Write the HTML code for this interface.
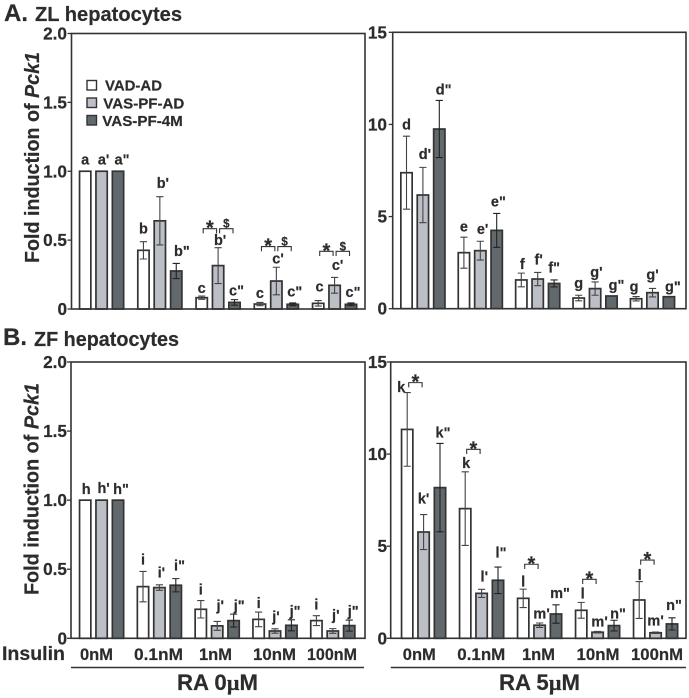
<!DOCTYPE html>
<html lang="en">
<head>
<meta charset="utf-8">
<title>Fold induction of Pck1</title>
<style>
html,body{margin:0;padding:0;background:#fff;width:689px;height:698px;overflow:hidden}
svg{display:block}
text{font-family:"Liberation Sans",sans-serif;font-weight:bold;fill:#2c2c2c;stroke:#2c2c2c;stroke-width:.2px}
</style>
</head>
<body>
<svg id="figure" xmlns="http://www.w3.org/2000/svg" width="689" height="698" viewBox="0 0 689 698">
  <rect width="689" height="698" fill="#fff"/>

  <text x="4" y="21" font-size="24">A.</text>
  <text x="35" y="21" font-size="20" textLength="147" lengthAdjust="spacingAndGlyphs">ZL hepatocytes</text>
  <text x="3" y="345" font-size="24">B.</text>
  <text x="34" y="346" font-size="20" textLength="145" lengthAdjust="spacingAndGlyphs">ZF hepatocytes</text>

  <text transform="translate(39,263) rotate(-90)" font-size="20" textLength="211" lengthAdjust="spacingAndGlyphs">Fold induction of <tspan font-style="italic">Pck1</tspan></text>
  <text transform="translate(38.5,595) rotate(-90)" font-size="20" textLength="212" lengthAdjust="spacingAndGlyphs">Fold induction of <tspan font-style="italic">Pck1</tspan></text>

  <g>
    <rect x="87" y="80.5" width="9.5" height="9.5" fill="#fff" stroke="#333" stroke-width="1.4"/>
    <text x="105" y="90.5" font-size="14.8" textLength="57" lengthAdjust="spacingAndGlyphs">VAD-AD</text>
    <rect x="87" y="98" width="9.5" height="9.5" fill="#bcc0c6" stroke="#333" stroke-width="1.4"/>
    <text x="103.3" y="108.5" font-size="14.8" textLength="81" lengthAdjust="spacingAndGlyphs">VAS-PF-AD</text>
    <rect x="87" y="115.5" width="9.5" height="9.5" fill="#62696d" stroke="#333" stroke-width="1.4"/>
    <text x="102.3" y="126" font-size="14.8" textLength="80.5" lengthAdjust="spacingAndGlyphs">VAS-PF-4M</text>
  </g>

  <text x="2" y="660" font-size="19.5" textLength="63" lengthAdjust="spacingAndGlyphs">Insulin</text>
  <line x1="71" x2="364" y1="667.5" y2="667.5" stroke="#333" stroke-width="1.5"/>
  <line x1="390.7" x2="686" y1="667.5" y2="667.5" stroke="#333" stroke-width="1.5"/>
  <text x="177" y="690" font-size="22.5" textLength="81" lengthAdjust="spacingAndGlyphs">RA 0<tspan font-family="'Liberation Serif',serif">µ</tspan>M</text>
  <text x="499" y="690" font-size="22.5" textLength="81" lengthAdjust="spacingAndGlyphs">RA 5<tspan font-family="'Liberation Serif',serif">µ</tspan>M</text>

  <g id="panels"></g>
</svg>

<script>
const categories = ['0nM', '0.1nM', '1nM', '10nM', '100nM'];
const seriesNames = ['vad-ad', 'vas-pf-ad', 'vas-pf-4m'];
const lowTicks = [0, 0.5, 1, 1.5, 2];
const lowTickLabels = ['0', '0.5', '1.0', '1.5', '2.0'];
const highTicks = [0, 5, 10, 15];
const highTickLabels = ['0', '5', '10', '15'];

const zlRa0Means = [[1, 1, 1], [0.426, 0.64, 0.276], [0.082, 0.315, 0.048], [0.036, 0.203, 0.034], [0.041, 0.172, 0.034]];
const zlRa0Errors = [[0, 0, 0], [0.063, 0.175, 0.055], [0.012, 0.13, 0.02], [0.012, 0.1, 0.01], [0.02, 0.057, 0.01]];
const zlRa0Letters = [['a', "a'", 'a"'], ['b', "b'", 'b"'], ['c', "b'", 'c"'], ['c', "c'", 'c"'], ['c', "c'", 'c"']];
const zlRa0Brackets = [[2, 0, 0.583, '*'], [2, 1, 0.583, '$'], [3, 0, 0.453, '*'], [3, 1, 0.453, '$'], [4, 0, 0.419, '*'], [4, 1, 0.419, '$']];

const zlRa5Means = [[7.38, 6.17, 9.75], [3.04, 3.15, 4.25], [1.56, 1.61, 1.37], [0.58, 1.09, 0.69], [0.54, 0.87, 0.65]];
const zlRa5Errors = [[1.98, 1.5, 1.55], [0.84, 0.51, 0.92], [0.37, 0.36, 0.19], [0.15, 0.36, 0], [0.12, 0.23, 0]];
const zlRa5Letters = [['d', "d'", 'd"'], ['e', "e'", 'e"'], ['f', "f'", 'f"'], ['g', "g'", 'g"'], ['g', "g'", 'g"']];
const zlRa5Brackets = [];

const zfRa0Means = [[1, 1, 1], [0.374, 0.367, 0.384], [0.21, 0.09, 0.128], [0.137, 0.053, 0.094], [0.128, 0.053, 0.092]];
const zfRa0Errors = [[0, 0, 0], [0.11, 0.02, 0.048], [0.063, 0.032, 0.047], [0.053, 0.016, 0.04], [0.036, 0.017, 0.04]];
const zfRa0Letters = [['h', "h'", 'h"'], ['i', "i'", 'i"'], ['i', "j'", 'j"'], ['i', "j'", 'j"'], ['i', "j'", 'j"']];
const zfRa0Brackets = [];

const zfRa5Means = [[11.34, 5.77, 8.18], [7.04, 2.44, 3.15], [2.17, 0.71, 1.32], [1.52, 0.33, 0.69], [2.08, 0.3, 0.78]];
const zfRa5Errors = [[2, 0.95, 2.4], [2, 0.22, 0.72], [0.5, 0.12, 0.5], [0.43, 0.04, 0.29], [1, 0.04, 0.33]];
const zfRa5Letters = [['k', "k'", 'k"'], ['k', "l'", 'l"'], ['l', "m'", 'm"'], ['l', "m'", 'n"'], ['l', "m'", 'n"']];
const zfRa5Brackets = [[0, 0, 13.88, '*'], [1, 0, 10.26, '*'], [2, 0, 4.02, '*'], [3, 0, 3.2, '*'], [4, 0, 4.25, '*']];

const barFills = ['#ffffff', '#bcc0c6', '#62696d'];
const INK = '#333333';
const SVG_NS = 'http://www.w3.org/2000/svg';
const root = document.getElementById('panels');

const panels = [
  { id: 'zl-ra0', means: zlRa0Means, errors: zlRa0Errors, letters: zlRa0Letters, brackets: zlRa0Brackets,
    ticks: lowTicks, tickLabels: lowTickLabels, yMax: 2,
    left: 71.5, right: 365, top: 33.5, bottom: 309, tickRight: 67, barStart: 78.7, groupStep: 58.25,
    gaps: [[7, 7, 7], [8, 8.7, 7.3], [3.3, 2.7, 4.3], [4.3, 4, 6.3], [9, 7.7, 6]],
    shifts: [[0, 2, 4], [0, 3, 5.6], [0, 2, 2], [0, 1.7, 2], [1.3, 3, 2]] },
  { id: 'zl-ra5', means: zlRa5Means, errors: zlRa5Errors, letters: zlRa5Letters, brackets: zlRa5Brackets,
    ticks: highTicks, tickLabels: highTickLabels, yMax: 15,
    left: 392.7, right: 686, top: 32.3, bottom: 308.7, tickRight: 387, barStart: 400, groupStep: 57.4,
    gaps: [[6.7, 8.3, 6], [5.7, 7.3, 7], [4, 7.7, 7.7], [7, 5, 6], [5, 8.7, 5.3]],
    shifts: [[0, 2, 4.3], [0, 2.3, 1.7], [1, 1, 0], [0, 1.3, 5], [-2, 0, 4]] },
  { id: 'zf-ra0', means: zfRa0Means, errors: zfRa0Errors, letters: zfRa0Letters, brackets: zfRa0Brackets,
    ticks: lowTicks, tickLabels: lowTickLabels, yMax: 2,
    left: 71, right: 365, top: 362, bottom: 638.3, tickRight: 67, barStart: 78.7, groupStep: 57.8,
    gaps: [[6.3, 7.3, 6.3], [7, 7.3, 8.3], [6.3, 10.7, 3.7], [4, 7.3, 3.7], [6, 8.7, 4]],
    shifts: [[1, 2, 3], [0, 2, 3.7], [0, 3, 5.6], [0, 1, 3.7], [0, 3, 4]],
    xLabels: [[96.5, 33], [158.5, 49], [215.5, 33], [274.5, 43], [332, 50]] },
  { id: 'zf-ra5', means: zfRa5Means, errors: zfRa5Errors, letters: zfRa5Letters, brackets: zfRa5Brackets,
    ticks: highTicks, tickLabels: highTickLabels, yMax: 15,
    left: 390.7, right: 686, top: 362, bottom: 638.3, tickRight: 387, barStart: 400.7, groupStep: 58,
    gaps: [[0.7, 11, 6], [3.7, 7.7, 9.3], [2.7, 4.3, 6.7], [3.7, 5, 1.7], [1.7, 6.7, 7.7]],
    shifts: [[-6, 0, 3], [1, 2.7, 3], [0, 2, 4], [1.5, 2, 4], [0.5, 0, 2]],
    xLabels: [[419.3, 33], [481.3, 48], [538.5, 33], [598, 43], [657, 52]] }
];

function make(tag, attrs, parent) {
  const el = document.createElementNS(SVG_NS, tag);
  Object.keys(attrs).forEach(function (k) { el.setAttribute(k, attrs[k]); });
  parent.appendChild(el);
  return el;
}

panels.forEach(function (p) {
  const barOuter = 13;
  const seriesStep = 16.4;
  const stroke = 1.7;
  const yScale = function (v) { return p.bottom - (v / p.yMax) * (p.bottom - p.top); };
  const barLeft = function (g, s) { return p.barStart + g * p.groupStep + s * seriesStep; };
  const barCenter = function (g, s) { return barLeft(g, s) + barOuter / 2; };

  const group = make('g', {}, root);
  
  

  p.means.forEach(function (row, g) {
    row.forEach(function (value, s) {
      const top = yScale(value);
      const bar = make('rect', {
        x: barLeft(g, s) + stroke / 2,
        y: top,
        width: barOuter - stroke,
        height: Math.max(0, p.bottom - top),
        fill: barFills[s],
        stroke: INK,
        'stroke-width': stroke
      }, group);
      
      

      const err = p.errors[g][s];
      const cx = barCenter(g, s);
      if (err > 0) {
        const capHalf = 3.6;
        const path = 'M' + cx + ' ' + yScale(value + err) + 'V' + yScale(value - err) +
          'M' + (cx - capHalf) + ' ' + yScale(value + err) + 'H' + (cx + capHalf) +
          'M' + (cx - capHalf) + ' ' + yScale(value - err) + 'H' + (cx + capHalf);
        const errorBar = make('path', { d: path, fill: 'none', stroke: s === 2 ? '#222' : '#444', 'stroke-width': 1.1 }, group);
        
        
      }

      const letter = make('text', {
        x: cx + p.shifts[g][s],
        y: yScale(value + err) - p.gaps[g][s],
        'font-size': 14.5,
        'text-anchor': 'middle'
      }, group);
      letter.textContent = p.letters[g][s];
      
      
    });
  });

  p.brackets.forEach(function (b) {
    const mid = (barCenter(b[0], b[1]) + barCenter(b[0], b[1] + 1)) / 2;
    const halfWidth = 6.7;
    const y = yScale(b[2]);
    const bracket = make('path', {
      d: 'M' + (mid - halfWidth) + ' ' + (y + 4.7) + 'V' + y + 'H' + (mid + halfWidth) + 'V' + (y + 4.7),
      fill: 'none', stroke: INK, 'stroke-width': 1.1
    }, group);
    
    

    const isStar = b[3] === '*';
    const mark = make('text', {
      x: mid,
      y: isStar ? y + 6 : y - 1,
      'font-size': isStar ? 20 : 11.5,
      'text-anchor': 'middle'
    }, group);
    mark.textContent = b[3];
    
    
  });

  const frame = make('rect', {
    x: p.left, y: p.top, width: p.right - p.left, height: p.bottom - p.top,
    fill: 'none', stroke: INK, 'stroke-width': 1.6
  }, group);
  
  

  p.ticks.forEach(function (t, i) {
    const y = yScale(t);
    const tick = make('line', { x1: p.left - 4, x2: p.left, y1: y, y2: y, stroke: INK, 'stroke-width': 1.3 }, group);
    
    

    const label = make('text', {
      x: p.tickRight, y: y + 6, 'font-size': 17.2, 'text-anchor': 'end'
    }, group);
    label.textContent = p.tickLabels[i];
    
    
  });

  if (p.xLabels) {
    categories.forEach(function (c, g) {
      const label = make('text', {
        x: p.xLabels[g][0], y: 660, 'font-size': 17, 'text-anchor': 'middle',
        textLength: p.xLabels[g][1], lengthAdjust: 'spacingAndGlyphs'
      }, group);
      label.textContent = c;
      
      
    });
  }
});
</script>
</body>
</html>
